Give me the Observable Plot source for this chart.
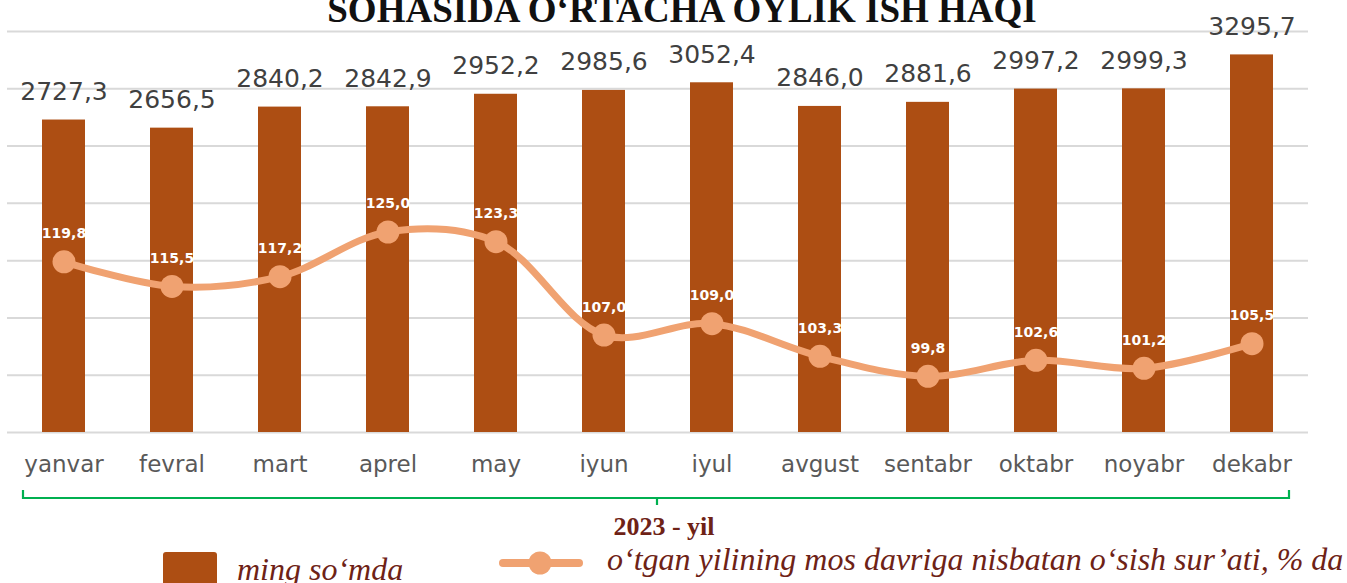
<!DOCTYPE html>
<html>
<head>
<meta charset="utf-8">
<script src="https://cdn.jsdelivr.net/npm/d3@7"></script>
<script src="https://cdn.jsdelivr.net/npm/@observablehq/plot@0.6"></script>
<style>
  html, body { margin: 0; padding: 0; background: #fff; }
  #wrap { position: relative; width: 1347px; height: 583px; overflow: hidden; background: #fff; }
  #chart { position: absolute; left: 0; top: 0; }
  #overlay { position: absolute; left: 0; top: 0; pointer-events: none; }
</style>
</head>
<body>
<div id="wrap">
  <div id="chart"></div>
  <svg id="overlay" width="1347" height="583"></svg>
</div>
<script>
const titleText = "SOHASIDA O‘RTACHA OYLIK ISH HAQI";
const months = ["yanvar","fevral","mart","aprel","may","iyun","iyul","avgust","sentabr","oktabr","noyabr","dekabr"];
const wages = [2727.3, 2656.5, 2840.2, 2842.9, 2952.2, 2985.6, 3052.4, 2846.0, 2881.6, 2997.2, 2999.3, 3295.7];
const growth = [119.8, 115.5, 117.2, 125.0, 123.3, 107.0, 109.0, 103.3, 99.8, 102.6, 101.2, 105.5];
const wageTicks = [0, 500, 1000, 1500, 2000, 2500, 3000, 3500];
const growthMin = 90;      // secondary axis: 90 .. 160 maps onto 0 .. 3500
const growthFactor = 50;
const yearLabel = "2023 - yil";
const legendBars = "ming so‘mda";
const legendLine = "o‘tgan yilining mos davriga nisbatan o‘sish sur’ati, % da";

const data = months.map((m, i) => ({month: m, wage: wages[i], growth: growth[i]}));
const fmt = v => v.toFixed(1).replace(".", ",");
const toPrimary = g => (g - growthMin) * growthFactor;

const BAR = "#AD4E13";
const LINE = "#F0A271";

const plot = Plot.plot({
  width: 1347,
  height: 490,
  marginLeft: 7,
  marginRight: 39,
  marginTop: 31,
  marginBottom: 58,
  style: {fontFamily: "DejaVu Sans", background: "transparent"},
  x: {type: "band", domain: months, paddingInner: 0.6, paddingOuter: 0.3, label: null},
  y: {domain: [0, 3500], axis: null},
  marks: [
    Plot.gridY(wageTicks, {stroke: "#d9d9d9", strokeOpacity: 1, strokeWidth: 2}),
    Plot.barY(data, {x: "month", y: "wage", fill: BAR}),
    Plot.text(data, {x: "month", y: "wage", text: d => fmt(d.wage), dy: -28, fontSize: 25, fill: "#404040"}),
    Plot.line(data, {x: "month", y: d => toPrimary(d.growth), curve: "catmull-rom", stroke: LINE, strokeWidth: 7}),
    Plot.dot(data, {x: "month", y: d => toPrimary(d.growth), r: 11.5, fill: LINE}),
    Plot.text(data, {x: "month", y: d => toPrimary(d.growth), text: d => fmt(d.growth), dy: -28, fontSize: 14, fontWeight: "bold", fill: "#ffffff"}),
    Plot.axisX({tickSize: 0, tickPadding: 23, fontSize: 23, color: "#595959", label: null})
  ]
});
document.getElementById("chart").appendChild(plot);

// overlay: title, bracket, year label, legend
const svg = d3.select("#overlay");
svg.append("text")
  .attr("x", 682).attr("y", 22)
  .attr("text-anchor", "middle")
  .attr("font-family", "Liberation Serif").attr("font-weight", "bold").attr("font-size", 37)
  .attr("fill", "#111").text(titleText);

svg.append("path")
  .attr("d", "M23,490 V498 H1289 V490 M657,498 V505")
  .attr("fill", "none").attr("stroke", "#00B050").attr("stroke-width", 2.2);

svg.append("text")
  .attr("x", 664).attr("y", 535).attr("text-anchor", "middle")
  .attr("font-family", "Liberation Serif").attr("font-weight", "bold").attr("font-size", 26)
  .attr("fill", "#6E2216").text(yearLabel);

svg.append("rect").attr("x", 163).attr("y", 552).attr("width", 54).attr("height", 50).attr("rx", 3).attr("fill", BAR);
svg.append("text").attr("x", 237).attr("y", 580)
  .attr("font-family", "Liberation Serif").attr("font-style", "italic").attr("font-size", 32)
  .attr("fill", "#6E2216").text(legendBars);

svg.append("line").attr("x1", 503).attr("x2", 579).attr("y1", 563).attr("y2", 563)
  .attr("stroke", LINE).attr("stroke-width", 8).attr("stroke-linecap", "round");
svg.append("circle").attr("cx", 540).attr("cy", 563).attr("r", 11.5).attr("fill", LINE);
svg.append("text").attr("x", 607).attr("y", 570)
  .attr("font-family", "Liberation Serif").attr("font-style", "italic").attr("font-size", 32)
  .attr("fill", "#6E2216").text(legendLine);
</script>
</body>
</html>
